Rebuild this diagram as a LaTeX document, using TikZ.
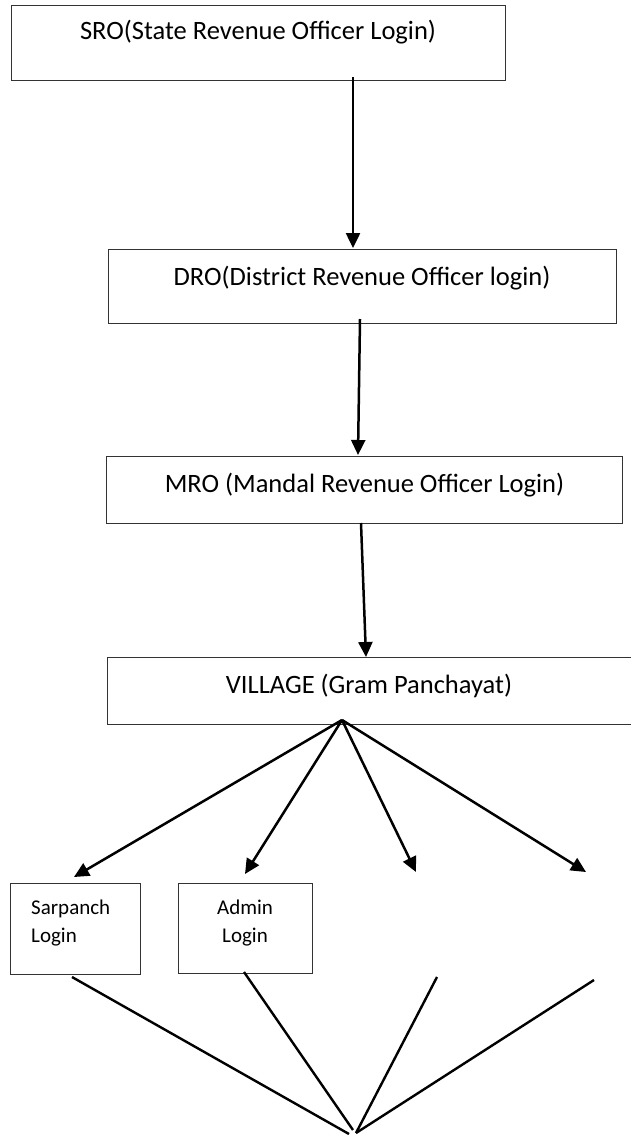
\documentclass[tikz,border=0pt]{standalone}
\usepackage{fontspec}
\setmainfont{Carlito}
\usetikzlibrary{arrows.meta}
\begin{document}
\begin{tikzpicture}[x=1pt,y=-1pt,
  box/.style={draw=black!80, line width=1.1pt, rectangle, anchor=north west, inner sep=0pt},
  big/.style={font=\fontsize{26.5}{32}\selectfont, anchor=base, inner sep=0pt},
  small/.style={font=\fontsize{21}{28}\selectfont, inner sep=0pt},
  arr/.style={line width=2.5pt, -{Triangle[length=15pt,width=14pt]}},
  ln/.style={line width=2.4pt}]
\useasboundingbox (0,0) rectangle (631,1135);
% boxes
\node[box, minimum width=494pt, minimum height=75pt] (sro) at (11,5) {};
\node[box, minimum width=508pt, minimum height=74pt] (dro) at (108,249) {};
\node[box, minimum width=516pt, minimum height=67pt] (mro) at (106,456) {};
\node[box, minimum width=528pt, minimum height=67pt] (vil) at (107,657) {};
\node[box, minimum width=130pt, minimum height=91pt] (sar) at (10,883) {};
\node[box, minimum width=134pt, minimum height=90pt] (adm) at (178,883) {};
% texts
\node[big] (srot) at (258,39) {SRO(State Revenue Officer Login)};
\node[big] (drot) at (362,285) {DRO(District Revenue Officer login)};
\node[big] (mrot) at (364.5,492) {MRO (Mandal Revenue Officer Login)};
\node[big] (vilt) at (369,693) {VILLAGE (Gram Panchayat)};
\node[small, align=left, anchor=base west] (sart) at (31,942) {Sarpanch\\Login};
\node[small, align=center, anchor=base] (admt) at (245,942) {Admin\\Login};
% coordinates
\coordinate (a1s) at (353,77);  \coordinate (a1e) at (353,248);
\coordinate (a2s) at (360,319); \coordinate (a2e) at (358,455);
\coordinate (a3s) at (361,523); \coordinate (a3e) at (366,657);
\coordinate (apex) at (342,720);
\coordinate (t1) at (74,877);  \coordinate (t2) at (245,874);
\coordinate (t3) at (416,872); \coordinate (t4) at (586,872);
\coordinate (b1) at (72,977);  \coordinate (b2) at (244,972);
\coordinate (b3) at (437,977); \coordinate (b4) at (594,980);
\coordinate (bl) at (349,1134); \coordinate (bm) at (353,1130);
\coordinate (br) at (356,1133);
% arrows
\draw[arr] (a1s) -- (a1e);
\draw[arr] (a2s) -- (a2e);
\draw[arr] (a3s) -- (a3e);
\draw[arr] (apex) -- (t1);
\draw[arr] (apex) -- (t2);
\draw[arr] (apex) -- (t3);
\draw[arr] (apex) -- (t4);
% converging lines
\draw[ln] (b1) -- (bl);
\draw[ln] (b2) -- (bm);
\draw[ln] (b3) -- (br);
\draw[ln] (b4) -- (br);
\end{tikzpicture}
\end{document}
